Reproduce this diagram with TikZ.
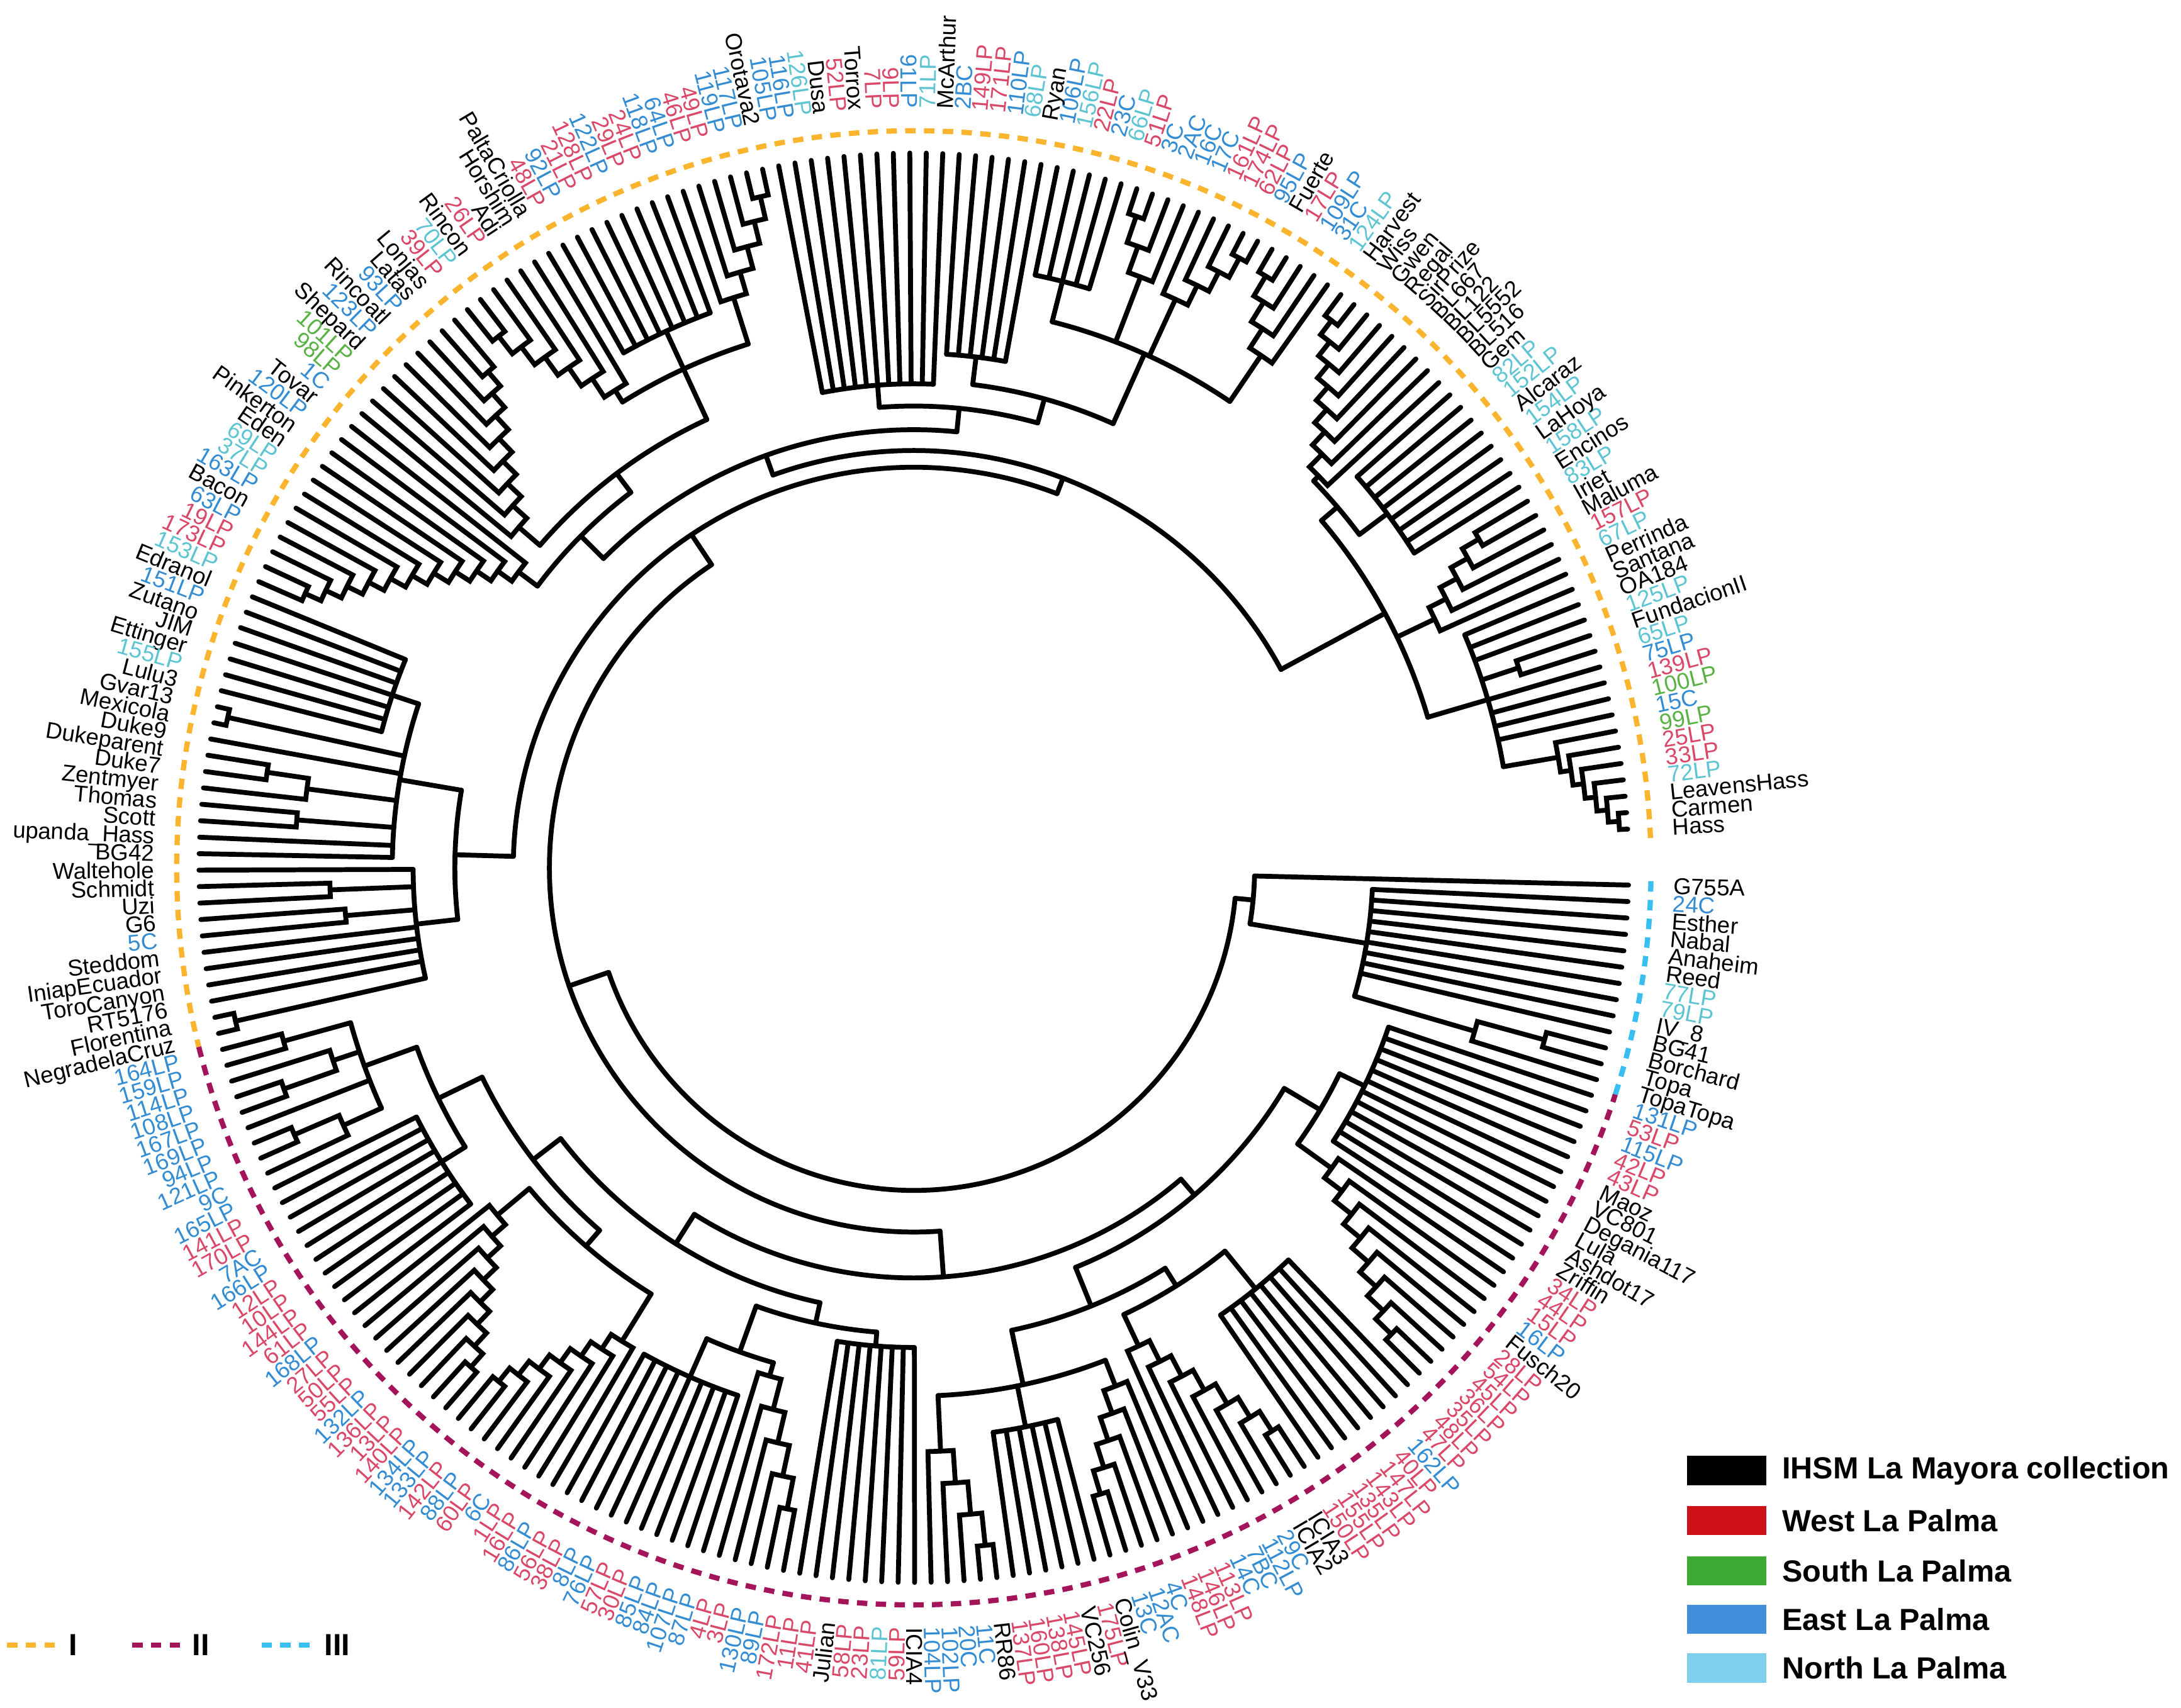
\documentclass[tikz,border=0pt]{standalone}
\usepackage{fontspec}
\setmainfont{Liberation Sans}
\definecolor{K}{RGB}{0,0,0}
\definecolor{W}{RGB}{217,72,104}
\definecolor{E}{RGB}{52,140,210}
\definecolor{N}{RGB}{94,196,210}
\definecolor{S}{RGB}{90,178,70}
\definecolor{gI}{RGB}{251,180,46}
\definecolor{gII}{RGB}{164,20,90}
\definecolor{gIII}{RGB}{56,190,240}
\definecolor{lW}{RGB}{206,16,24}
\definecolor{lS}{RGB}{60,170,50}
\definecolor{lE}{RGB}{64,144,220}
\definecolor{lN}{RGB}{126,206,236}
\newcommand\Ang[1]{(3.1+((#1)-1)*1.3216)}
\def\U{0.2mm}
\def\TIP{514}
\newcommand\AT[1]{\csname at#1\endcsname}
\newcommand\lf[2]{\draw[br] ({\Ang{#1}}:#2) -- ({\Ang{#1}}:\TIP);}
\newcommand\nd[5]{%
 \pgfmathsetmacro\Na{#1}\pgfmathsetmacro\Nb{#2}\pgfmathsetmacro\Nm{(\Na+\Nb)/2}%
 \draw[br] ({\Ang{\Na}}:#3) arc[start angle={\Ang{\Na}}, end angle={\Ang{\Nb}}, radius=#3*\U];%
 \draw[br] ({\Ang{\Nm}}:#3) -- ({\Ang{\Nm}}:#4);%
 \expandafter\xdef\csname at#5\endcsname{\Nm}}
\newcommand\comb[5]{\foreach \ci in {#1,...,#2}{\lf{\ci}{#3}}\nd{#1}{#2}{#3}{#4}{#5}}
\newcommand\ladR[6]{%
 \pgfmathtruncatemacro\Ln{#2-#1}\xdef\Lm{#2}\xdef\Lp{\TIP}%
 \foreach \j in {1,...,\Ln}{%
  \pgfmathtruncatemacro\Lk{#2-\j}%
  \pgfmathsetmacro\Lr{#3+(#4-#3)*(\Lk-#1)/max(\Ln-1,1)}%
  \draw[br] ({\Ang{\Lk}}:\TIP) -- ({\Ang{\Lk}}:\Lr) arc[start angle={\Ang{\Lk}}, end angle={\Ang{\Lm}}, radius=\Lr*\U] -- ({\Ang{\Lm}}:\Lp);%
  \pgfmathsetmacro\Lt{(\Lk+\Lm)/2}\xdef\Lm{\Lt}\xdef\Lp{\Lr}}%
 \draw[br] ({\Ang{\Lm}}:\Lp) -- ({\Ang{\Lm}}:#5);%
 \expandafter\xdef\csname at#6\endcsname{\Lm}}
\newcommand\ladL[6]{%
 \pgfmathtruncatemacro\Ln{#2-#1}\xdef\Lm{#1}\xdef\Lp{\TIP}%
 \foreach \j in {1,...,\Ln}{%
  \pgfmathtruncatemacro\Lk{#1+\j}%
  \pgfmathsetmacro\Lr{#4-(#4-#3)*(\j-1)/max(\Ln-1,1)}%
  \draw[br] ({\Ang{\Lk}}:\TIP) -- ({\Ang{\Lk}}:\Lr) arc[start angle={\Ang{\Lk}}, end angle={\Ang{\Lm}}, radius=\Lr*\U] -- ({\Ang{\Lm}}:\Lp);%
  \pgfmathsetmacro\Lt{(\Lk+\Lm)/2}\xdef\Lm{\Lt}\xdef\Lp{\Lr}}%
 \draw[br] ({\Ang{\Lm}}:\Lp) -- ({\Ang{\Lm}}:#5);%
 \expandafter\xdef\csname at#6\endcsname{\Lm}}
\begin{document}
\begin{tikzpicture}[x=0.2mm,y=0.2mm,
 br/.style={line width=0.7mm, line cap=round},
 lab/.style={font=\fontsize{9.4}{10}\selectfont, inner sep=0pt, text height=6.8pt, text depth=0pt},
 grp/.style={line width=0.75mm, dash pattern=on 1.5mm off 1.2mm},
 lbox/.style={minimum width=11.4mm, minimum height=4.2mm, inner sep=0pt, draw=none},
 ltext/.style={font=\bfseries\fontsize{12.5}{14}\selectfont, inner sep=0pt, anchor=west}]
\useasboundingbox (0,0) rectangle (1568,1228);
\begin{scope}[shift={(657,604)}]
% ---- clade I, upper right
\ladL{1}{7}{470}{508}{430}{a1}
\foreach \q in {8,9,10,11,14,15,16}{\lf{\q}{430}}
\ladR{12}{13}{458}{458}{430}{a2}
\nd{\AT{a1}}{16}{430}{385}{a3}
\ladR{17}{22}{415}{470}{385}{a4}
\comb{23}{30}{425}{400}{a5}
\ladR{31}{39}{405}{495}{400}{a6}
\nd{\AT{a5}}{\AT{a6}}{400}{385}{a7}
\nd{\AT{a3}}{\AT{a7}}{385}{300}{a8}
\ladR{40}{44}{445}{495}{405}{b1}
\ladL{45}{49}{450}{497}{405}{b2}
\ladR{50}{53}{455}{495}{405}{b3}
\comb{54}{58}{435}{405}{b4}
\nd{\AT{b1}}{\AT{b4}}{405}{350}{b5}
\comb{59}{64}{370}{350}{b6}
\nd{\AT{b5}}{\AT{b6}}{350}{332}{b7}
% ---- top and upper left
\comb{65}{75}{348}{332}{c1}
\nd{\AT{b7}}{\AT{c1}}{332}{315}{T}
\ladL{76}{81}{430}{495}{395}{c2}
\comb{82}{89}{425}{395}{c3}
\ladR{90}{96}{405}{485}{395}{c4}
\nd{\AT{c2}}{\AT{c4}}{395}{355}{c5}
\ladL{97}{105}{375}{470}{355}{c6}
\nd{\AT{c5}}{\AT{c6}}{355}{338}{c7}
\ladR{106}{117}{355}{480}{338}{c8}
\nd{\AT{c7}}{\AT{c8}}{338}{315}{c9}
\nd{\AT{T}}{\AT{c9}}{315}{300}{U}
\nd{\AT{a8}}{\AT{U}}{300}{288}{Ia}
% ---- left
\comb{118}{124}{395}{375}{d1}
\ladR{125}{126}{505}{505}{375}{d2}
\lf{127}{375}
\ladL{128}{130}{440}{470}{375}{d3}
\ladR{131}{132}{445}{445}{375}{d4}
\lf{133}{375}\lf{134}{375}
\nd{\AT{d1}}{134}{375}{330}{d5}
\lf{135}{360}
\ladR{136}{137}{420}{420}{360}{d6}
\ladR{138}{139}{410}{410}{360}{d7}
\foreach \q in {140,...,143}{\lf{\q}{360}}
\ladR{144}{145}{500}{500}{360}{d8}
\nd{135}{\AT{d8}}{360}{330}{d9}
\nd{\AT{d5}}{\AT{d9}}{330}{288}{IBb}
\nd{\AT{Ia}}{\AT{IBb}}{288}{262}{I}
% ---- clade II
\ladR{146}{147}{470}{470}{420}{e1}
\ladR{148}{150}{440}{480}{420}{e2}
\lf{151}{420}
\ladL{152}{154}{450}{485}{420}{e3}
\nd{\AT{e1}}{\AT{e3}}{420}{380}{e4}
\comb{155}{163}{400}{380}{e5}
\nd{\AT{e4}}{\AT{e5}}{380}{345}{e6}
\ladR{164}{172}{390}{480}{360}{e7}
\ladL{173}{180}{400}{475}{360}{e8}
\nd{\AT{e7}}{\AT{e8}}{360}{345}{e9}
\nd{\AT{e6}}{\AT{e9}}{345}{320}{e10}
\comb{181}{189}{400}{370}{e11}
\ladR{190}{195}{380}{470}{370}{e12}
\nd{\AT{e11}}{\AT{e12}}{370}{335}{e13}
\comb{196}{203}{345}{335}{e14}
\nd{\AT{e13}}{\AT{e14}}{335}{320}{e15}
\nd{\AT{e10}}{\AT{e15}}{320}{295}{IIA}
\ladR{204}{208}{420}{490}{380}{f1}
\comb{209}{214}{410}{380}{f2}
\ladL{215}{220}{400}{470}{380}{f3}
\nd{\AT{f1}}{\AT{f3}}{380}{340}{f4}
\ladR{221}{228}{380}{480}{355}{f5}
\comb{229}{236}{390}{355}{f6}
\nd{\AT{f5}}{\AT{f6}}{355}{340}{f7}
\nd{\AT{f4}}{\AT{f7}}{340}{310}{f8}
\ladL{237}{245}{370}{480}{340}{f9}
\comb{246}{257}{360}{340}{f10}
\nd{\AT{f9}}{\AT{f10}}{340}{310}{f11}
\nd{\AT{f8}}{\AT{f11}}{310}{295}{IIB}
\nd{\AT{IIA}}{\AT{IIB}}{295}{262}{II}
\nd{\AT{I}}{\AT{II}}{262}{232}{I2}
% ---- clade III
\ladR{258}{260}{420}{470}{330}{g1}
\foreach \q in {261,...,269}{\lf{\q}{330}}
\nd{\AT{g1}}{269}{330}{245}{g2}
\lf{270}{245}
\nd{\AT{g2}}{270}{245}{232}{III}
\nd{\AT{I2}}{\AT{III}}{232}{232}{root}
% ---- group rings
\draw[grp,gI] ({\Ang{0.4}}:530) arc[start angle={\Ang{0.4}}, end angle={\Ang{145.5}}, radius=530*\U];
\draw[grp,gII] ({\Ang{145.5}}:530) arc[start angle={\Ang{145.5}}, end angle={\Ang{257.5}}, radius=530*\U];
\draw[grp,gIII] ({\Ang{257.5}}:530) arc[start angle={\Ang{257.5}}, end angle={\Ang{270.4}}, radius=530*\U];
% ---- labels
\foreach \i/\Lb/\Cl in {1/Hass/K,2/Carmen/K,3/LeavensHass/K,4/72LP/N,5/33LP/W,6/25LP/W,7/99LP/S,8/15C/E,9/100LP/S,10/139LP/W,
11/75LP/E,12/65LP/N,13/FundacionII/K,14/125LP/N,15/OA184/K,16/Santana/K,17/Perrinda/K,18/67LP/N,19/157LP/W,20/Maluma/K,
21/Iriet/K,22/83LP/N,23/Encinos/K,24/158LP/N,25/LaHoya/K,26/154LP/N,27/Alcaraz/K,28/152LP/N,29/82LP/N,30/Gem/K,
31/BL516/K,32/BL5552/K,33/BL122/K,34/BL667/K,35/SirPrize/K,36/Regal/K,37/Gwen/K,38/Wiss/K,39/Harvest/K,40/124LP/N,
41/31C/E,42/109LP/E,43/17LP/W,44/Fuerte/K,45/95LP/E,46/62LP/W,47/174LP/W,48/161LP/W,49/17C/E,50/16C/E,
51/2AC/E,52/3C/E,53/51LP/W,54/66LP/N,55/23C/E,56/22LP/W,57/156LP/N,58/106LP/E,59/Ryan/K,60/68LP/N,
61/110LP/E,62/171LP/W,63/149LP/W,64/2BC/E,65/McArthur/K,66/71LP/N,67/91LP/E,68/9LP/W,69/7LP/W,70/Torrox/K,
71/52LP/W,72/Dusa/K,73/126LP/N,74/116LP/E,75/105LP/E,76/Orotava2/K,77/117LP/E,78/119LP/E,79/49LP/W,80/46LP/W,
81/64LP/E,82/118LP/E,83/24LP/W,84/29LP/W,85/122LP/E,86/128LP/W,87/21LP/W,88/92LP/E,89/48LP/W,90/PaltaCriolla/K,
91/Horshim/K,92/Adi/K,93/26LP/W,94/Rincon/K,95/70LP/N,96/39LP/W,97/Lonjas/K,98/Latas/K,99/93LP/E,100/Rincoatl/K,
101/123LP/E,102/Shepard/K,103/101LP/S,104/98LP/S,105/1C/E,106/Tovar/K,107/120LP/E,108/Pinkerton/K,109/Eden/K,110/69LP/N,
111/37LP/N,112/163LP/E,113/Bacon/K,114/63LP/E,115/19LP/W,116/173LP/W,117/153LP/N,118/Edranol/K,119/151LP/E,120/Zutano/K,
121/JIM/K,122/Ettinger/K,123/155LP/N,124/Lulu3/K,125/Gvar13/K,126/Mexicola/K,127/Duke9/K,128/Dukeparent/K,129/Duke7/K,130/Zentmyer/K,
131/Thomas/K,132/Scott/K,133/upanda\_Hass/K,134/BG42/K,135/Waltehole/K,136/Schmidt/K,137/Uzi/K,138/G6/K,139/5C/E,140/Steddom/K,
141/IniapEcuador/K,142/ToroCanyon/K,143/RT5176/K,144/Florentina/K,145/NegradelaCruz/K,146/164LP/E,147/159LP/E,148/114LP/E,149/108LP/E,150/167LP/E,
151/169LP/E,152/94LP/E,153/121LP/E,154/9C/E,155/165LP/E,156/141LP/W,157/170LP/W,158/7AC/E,159/166LP/E,160/12LP/W,
161/10LP/W,162/144LP/W,163/61LP/W,164/168LP/E,165/27LP/W,166/50LP/W,167/55LP/W,168/132LP/E,169/136LP/W,170/13LP/W,
171/140LP/W,172/134LP/E,173/133LP/E,174/142LP/W,175/88LP/E,176/60LP/W,177/6C/E,178/1LP/W,179/16LP/W,180/86LP/E,
181/56LP/W,182/38LP/W,183/8LP/E,184/76LP/E,185/57LP/W,186/30LP/W,187/85LP/E,188/84LP/E,189/107LP/E,190/87LP/E,
191/4LP/W,192/3LP/W,193/130LP/E,194/89LP/E,195/172LP/W,196/11LP/W,197/41LP/W,198/Julian/K,199/58LP/W,200/23LP/W,
201/81LP/N,202/59LP/W,203/ICIA4/K,204/104LP/E,205/102LP/E,206/20C/E,207/11C/E,208/RR86/K,209/137LP/W,210/160LP/W,
211/138LP/W,212/145LP/W,213/VC256/K,214/175LP/W,215/Colin\_V33/K,216/13C/E,217/12AC/E,218/4C/E,219/148LP/W,220/146LP/W,
221/113LP/W,222/14C/E,223/7BC/E,224/112LP/E,225/29C/E,226/ICIA2/K,227/ICIA3/K,228/150LP/W,229/155LP/W,230/135LP/W,
231/143LP/W,232/147LP/W,233/40LP/W,234/162LP/E,235/47LP/W,236/48LP/W,237/35LP/W,238/36LP/W,239/45LP/W,240/54LP/W,
241/28LP/W,242/Fusch20/K,243/16LP/E,244/15LP/W,245/44LP/W,246/34LP/W,247/Zriffin/K,248/Ashdot17/K,249/Lula/K,250/Degania117/K,
251/VC801/K,252/Maoz/K,253/43LP/W,254/42LP/W,255/115LP/E,256/53LP/W,257/131LP/E,258/TopaTopa/K,259/Topa/K,260/Borchard/K,
261/BG41/K,262/IV\_8/K,263/79LP/N,264/77LP/N,265/Reed/K,266/Anaheim/K,267/Nabal/K,268/Esther/K,269/24C/E,270/G755A/K}{
 \pgfmathsetmacro\Th{3.1+(\i-1)*1.3216}
 \pgfmathtruncatemacro\Lft{and(\Th>90,\Th<270)}
 \ifnum\Lft=1
  \pgfmathsetmacro\Rt{\Th-180}
  \node[lab,text=\Cl,anchor=east,rotate=\Rt] (L\i) at (\Th:546) {\Lb};
 \else
  \node[lab,text=\Cl,anchor=west,rotate=\Th] (L\i) at (\Th:546) {\Lb};
 \fi
}
\end{scope}
% ---- legends
\node[lbox,fill=K] (bK) at (1241.5,170.5) {};
\node[lbox,fill=lW] (bW) at (1241.5,134.5) {};
\node[lbox,fill=lS] (bS) at (1241.5,98.5) {};
\node[lbox,fill=lE] (bE) at (1241.5,63.5) {};
\node[lbox,fill=lN] (bN) at (1241.5,28.5) {};
\node[ltext] (tK) at (1281,170.5) {IHSM La Mayora collection};
\node[ltext] (tW) at (1281,134.5) {West La Palma};
\node[ltext] (tS) at (1281,98.5) {South La Palma};
\node[ltext] (tE) at (1281,63.5) {East La Palma};
\node[ltext] (tN) at (1281,28.5) {North La Palma};
\coordinate (gIa) at (5,45); \coordinate (gIb) at (42,45);
\coordinate (gIIa) at (95,45); \coordinate (gIIb) at (132,45);
\coordinate (gIIIa) at (188,45); \coordinate (gIIIb) at (226,45);
\draw[grp,gI] (gIa) -- (gIb);
\draw[grp,gII] (gIIa) -- (gIIb);
\draw[grp,gIII] (gIIIa) -- (gIIIb);
\node[ltext] (nI) at (49,45) {I};
\node[ltext] (nII) at (138,45) {II};
\node[ltext] (nIII) at (233,45) {III};
\end{tikzpicture}
\end{document}
